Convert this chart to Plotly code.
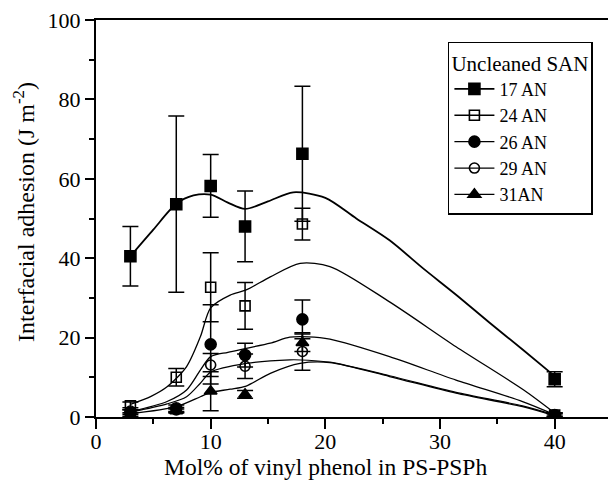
import plotly.graph_objects as go

# ---- data ----
x_pts = [3, 7, 10, 13, 18, 40]

y_17 = [40.5, 53.6, 58.2, 48.0, 66.3, 9.5]
e_17 = [7.5, 22.2, 7.9, 8.9, 17.0, 1.9]
y_24 = [2.8, 10.0, 32.7, 28.0, 48.6, 0.5]
e_24 = [1.0, 2.2, 8.7, 5.9, 4.0, 0.5]
y_26 = [1.0, 2.2, 18.3, 15.6, 24.6, 0.5]
e_26 = [0.8, 0.8, 10.0, 3.0, 4.9, 0.5]
y_29 = [1.5, 1.8, 13.1, 12.8, 16.5, 0.5]
e_29 = [0.8, 0.6, 2.9, 3.1, 4.7, 0.5]
y_31 = [0.5, 1.5, 6.5, 5.7, 18.7, 0.2]
e_31 = [0.6, 0.5, 4.9, 1.0, 2.2, 0.3]

# smooth guide curves
c17_x = [3, 5, 7, 8.5, 10, 11.5, 13, 15, 17.2, 20, 22.7, 25.6, 28.5, 31.4, 34.3, 37.2, 40]
c17_y = [40.5, 47.2, 53.7, 55.8, 56.0, 54.0, 52.4, 54.3, 56.6, 55.2, 50.0, 44.5, 37.5, 30.8, 23.8, 17.0, 10.3]
c24_x = [3, 4.8, 6.2, 7.9, 9.1, 10, 11.7, 13.1, 15.2, 17.8, 20.4, 25.6, 31.4, 37.3, 40]
c24_y = [3.2, 5.2, 7.6, 12.7, 20.2, 27.5, 30.7, 32.0, 35.3, 38.7, 37.9, 29.0, 17.7, 6.8, 1.0]
c26_x = [3, 6.2, 7.9, 9.1, 10, 11.5, 13.1, 15.2, 16.9, 18.5, 20.4, 25.6, 31.4, 37.2, 40]
c26_y = [1.3, 3.9, 6.8, 11.8, 15.2, 16.3, 17.3, 18.6, 20.1, 20.2, 19.6, 15.2, 9.3, 3.9, 0.6]
c29_x = [3, 6.2, 7.9, 9.1, 10, 13.1, 16.9, 18.5, 20.4, 25.6, 31.4, 37.2, 40]
c29_y = [1.2, 3.3, 5.1, 8.5, 11.3, 13.5, 14.4, 14.3, 13.8, 10.4, 6.2, 2.8, 0.5]
c31_x = [3, 7, 9.1, 10, 11.7, 13.1, 15.2, 17.8, 20.4, 25.6, 31.4, 37.2, 40]
c31_y = [0.8, 2.6, 5.1, 6.2, 7.0, 7.8, 11.0, 13.5, 13.7, 10.2, 6.0, 2.6, 0.3]

names = ["17 AN", "24 AN", "26 AN", "29 AN", "31AN"]
symbols = ["square", "square-open", "circle", "circle-open", "triangle-up"]
ys = [y_17, y_24, y_26, y_29, y_31]
es = [e_17, e_24, e_26, e_29, e_31]
cxs = [c17_x, c24_x, c26_x, c29_x, c31_x]
cys = [c17_y, c24_y, c26_y, c29_y, c31_y]
line_w = [1.8, 1.3, 1.3, 1.2, 1.3]
msize = [11, 10, 11, 10, 11]

x_title = "Mol% of vinyl phenol in PS-PSPh"
y_title = "Interfacial adhesion (J m<sup>-2</sup>)"
legend_title = "Uncleaned SAN"

FONT = "Liberation Serif"
fig = go.Figure()

for cx, cy, lw in zip(cxs, cys, line_w):
    fig.add_trace(go.Scatter(x=cx, y=cy, mode="lines", showlegend=False,
                             line=dict(color="black", width=lw, shape="spline", smoothing=0.8),
                             hoverinfo="skip"))

for y, e, sym, ms in zip(ys, es, symbols, msize):
    fig.add_trace(go.Scatter(x=x_pts, y=y, mode="markers", showlegend=False,
                             marker=dict(symbol=sym, size=ms, color="black",
                                         line=dict(color="black", width=1.6)),
                             error_y=dict(type="data", array=e, visible=True,
                                          color="black", thickness=1.5, width=8)))

# legend entries
for n, sym, ms, lw in zip(names, symbols, msize, line_w):
    fig.add_trace(go.Scatter(x=[None], y=[None], mode="lines+markers", name=n,
                             marker=dict(symbol=sym, size=ms, color="black",
                                         line=dict(color="black", width=1.6)),
                             line=dict(color="black", width=lw)))

axis_common = dict(showgrid=False, zeroline=False, linecolor="black", linewidth=2,
                   tickcolor="black", tickwidth=1.5, automargin=False,
                   ticklabeloverflow="allow",
                   tickfont=dict(family=FONT, size=22, color="black"))

# page has an 8px body margin, so the figure is sized 8px smaller
fig.update_layout(
    width=608, height=473,
    margin=dict(l=88, r=4, t=12, b=64),
    paper_bgcolor="white", plot_bgcolor="white",
    font=dict(family=FONT, size=20, color="black"),
    xaxis=dict(range=[0, 45], tickmode="linear", tick0=0, dtick=10,
               ticks="outside", ticklen=10, mirror=True, ticklabelstandoff=-6,
               minor=dict(dtick=5, ticks="outside", ticklen=5, tickcolor="black", tickwidth=1.5),
               **axis_common),
    yaxis=dict(range=[0, 100], tickmode="linear", tick0=0, dtick=20,
               ticks="outside", ticklen=9, mirror=True,
               minor=dict(dtick=10, ticks="outside", ticklen=5, tickcolor="black", tickwidth=1.5),
               **axis_common),
    xaxis2=dict(range=[0, 45], overlaying="x", side="top", showticklabels=False,
                showgrid=False, zeroline=False, showline=False, automargin=False,
                tickmode="linear", tick0=0, dtick=10, ticks="inside", ticklen=8,
                tickcolor="black", tickwidth=1.5,
                minor=dict(dtick=5, ticks="inside", ticklen=4, tickcolor="black", tickwidth=1.5)),
    yaxis2=dict(range=[0, 100], overlaying="y", side="right", showticklabels=False,
                showgrid=False, zeroline=False, showline=False, automargin=False,
                tickmode="linear", tick0=0, dtick=20, ticks="inside", ticklen=8,
                tickcolor="black", tickwidth=1.5,
                minor=dict(dtick=10, ticks="inside", ticklen=4, tickcolor="black", tickwidth=1.5)),
    legend=dict(x=0.682, y=0.945, xanchor="left", yanchor="top",
                bgcolor="white", bordercolor="black", borderwidth=1.5,
                font=dict(family=FONT, size=18),
                title=dict(text=legend_title, font=dict(family=FONT, size=21)),
                itemwidth=40, tracegroupgap=0),
    annotations=[
        dict(text=x_title, xref="paper", yref="paper", x=0.444, y=-0.126,
             xanchor="center", yanchor="middle", showarrow=False,
             font=dict(family=FONT, size=23.5)),
        dict(text=y_title, xref="paper", yref="paper", x=-0.14, y=0.516,
             xanchor="center", yanchor="middle", showarrow=False, textangle=-90,
             font=dict(family=FONT, size=24)),
    ],
)

fig.write_html("out.html")
